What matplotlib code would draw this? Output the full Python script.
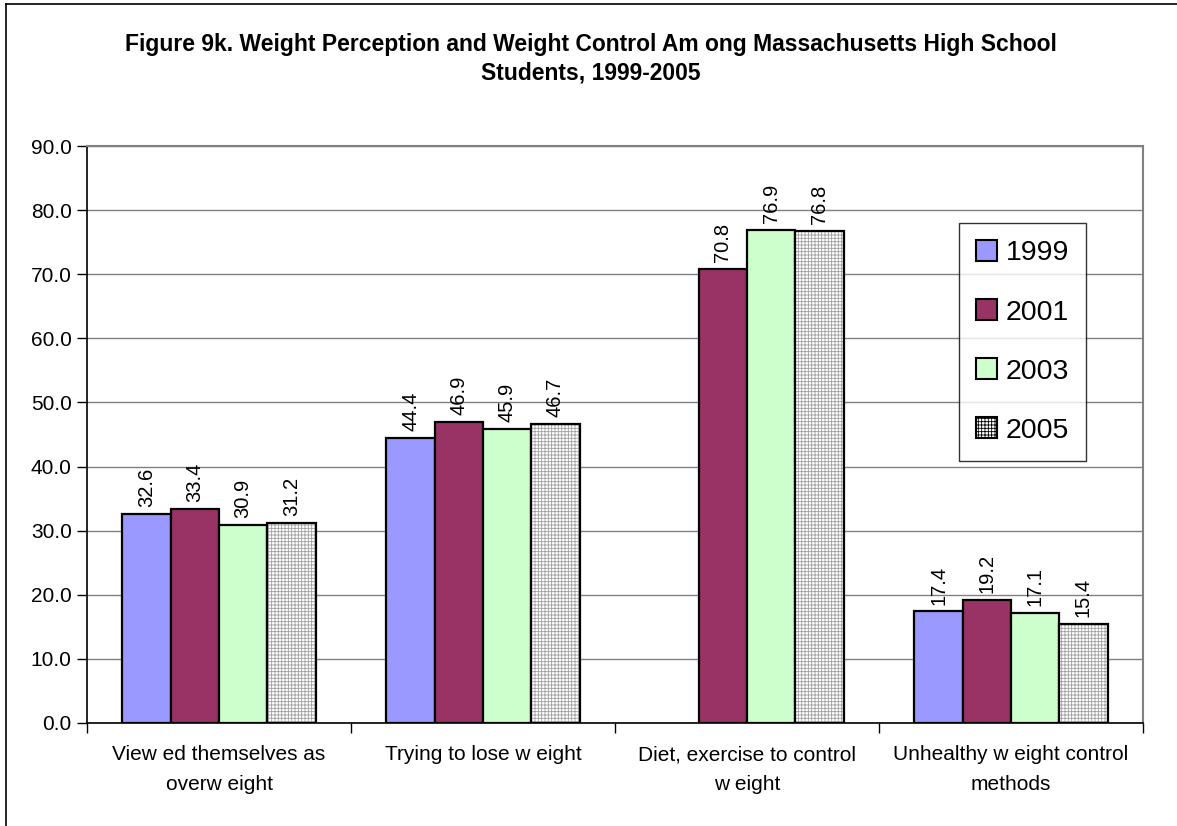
import numpy as np
import matplotlib
matplotlib.use("Agg")
import matplotlib.pyplot as plt
from matplotlib.patches import Patch
from matplotlib.lines import Line2D

plt.rcParams['font.family'] = ['Liberation Sans', 'DejaVu Sans']
plt.rcParams['hatch.linewidth'] = 0.6

categories = ["View ed themselves as\noverw eight",
              "Trying to lose w eight",
              "Diet, exercise to control\nw eight",
              "Unhealthy w eight control\nmethods"]
years = ["1999", "2001", "2003", "2005"]
v1999 = [32.6, 44.4, np.nan, 17.4]
v2001 = [33.4, 46.9, 70.8, 19.2]
v2003 = [30.9, 45.9, 76.9, 17.1]
v2005 = [31.2, 46.7, 76.8, 15.4]
yticks = [0, 10, 20, 30, 40, 50, 60, 70, 80, 90]

series = [v1999, v2001, v2003, v2005]
fills = ["#9999FF", "#993366", "#CCFFCC", "white"]

W, H = 1177, 826
fig = plt.figure(figsize=(W / 100, H / 100), dpi=100)
ax = fig.add_axes([87/W, 1-723/H, (1143-87)/W, (723-146)/H])

# outer chart-area frame (left and top edges visible)
fig.add_artist(Line2D([6/W, 6/W], [0, 1-4/H], color="black", lw=1.2))
fig.add_artist(Line2D([6/W, 1], [1-4/H, 1-4/H], color="black", lw=1.2))

x = np.arange(len(categories)) + 0.5
bw = 0.183
offsets = (np.arange(4) - 1.5) * bw

for i, (vals, fc) in enumerate(zip(series, fills)):
    vals = np.asarray(vals, dtype=float)
    pos = x + offsets[i]
    if i == 3:
        ax.bar(pos, vals, bw, color="white", edgecolor="#a0a0a0",
               hatch="+++++", linewidth=0, zorder=3)
        ax.bar(pos, vals, bw, color="none", edgecolor="black",
               linewidth=1.6, zorder=4)
    else:
        ax.bar(pos, vals, bw, color=fc, edgecolor="black",
               linewidth=1.6, zorder=3)
    for p, v in zip(pos, vals):
        if np.isnan(v):
            continue
        ax.annotate(f"{v:.1f}", (p, v), xytext=(0, 5),
                    textcoords="offset points", rotation=90,
                    ha="center", va="bottom", fontsize=14.5)

ax.set_xlim(0, 4)
ax.set_ylim(0, 90)
ax.set_yticks(yticks)
ax.set_yticklabels([f"{t:.1f}" for t in yticks], fontsize=15)
ax.yaxis.grid(True, color="#808080", linewidth=1.0, zorder=0)
ax.set_axisbelow(True)

ax.set_xticks([0, 1, 2, 3, 4])
ax.set_xticklabels([])
ax.set_xticks(x, minor=True)
ax.set_xticklabels(categories, minor=True, fontsize=15, linespacing=1.7)
ax.tick_params(axis="x", which="minor", length=0, pad=16)
ax.tick_params(axis="x", which="major", length=7, width=1, direction="out")
ax.tick_params(axis="y", length=7, width=1, direction="out", pad=4)

for s in ["left", "bottom"]:
    ax.spines[s].set_color("black")
    ax.spines[s].set_linewidth(1.2)
for s in ["top", "right"]:
    ax.spines[s].set_color("#808080")
    ax.spines[s].set_linewidth(1.5)

handles = []
for i, fc in enumerate(fills):
    if i == 3:
        handles.append(Patch(facecolor="white", edgecolor="black",
                             hatch="+++++", linewidth=1.5, label=years[i]))
    else:
        handles.append(Patch(facecolor=fc, edgecolor="black",
                             linewidth=1.5, label=years[i]))
leg = ax.legend(handles=handles, loc="upper left",
                bbox_to_anchor=((959-87)/1056, (723-223)/577),
                fontsize=20.5, frameon=True, fancybox=False, shadow=False,
                handlelength=0.75, handleheight=0.75, handletextpad=0.3,
                labelspacing=1.15, borderpad=0.6, borderaxespad=0)
leg.get_frame().set_edgecolor("black")
leg.get_frame().set_linewidth(1.0)

fig.text(591/W, 1-59/H,
         "Figure 9k. Weight Perception and Weight Control Am ong Massachusetts High School\nStudents, 1999-2005",
         ha="center", va="center", fontsize=16.5, fontweight="bold",
         linespacing=1.3)

fig.savefig("out.png", dpi=100)
